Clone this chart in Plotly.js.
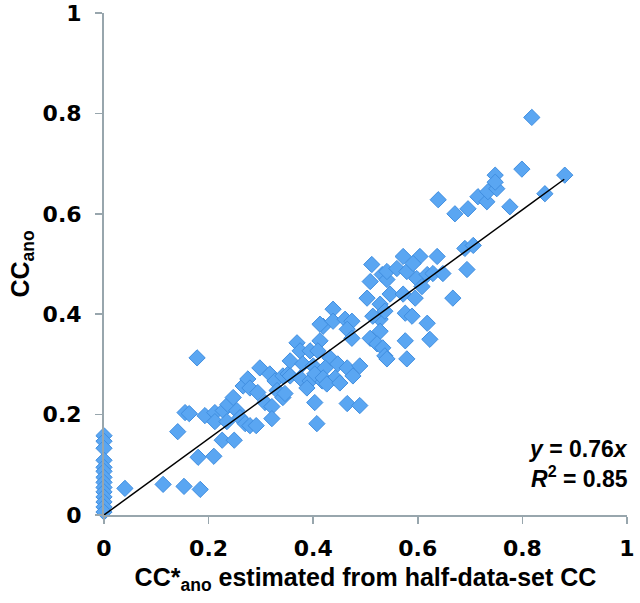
<!DOCTYPE html>
<html>
<head>
<meta charset="utf-8">
<script src="https://cdn.plot.ly/plotly-3.0.1.min.js"></script>
<style>html,body{margin:0;padding:0;background:#fff;}#chart{width:640px;height:603px;}</style>
</head>
<body>
<div id="chart"></div>
<script>
// CC*ano (estimated from half-data-set CC) values
const ccStar = [
  0,0,0,0,0,0,0,0,0,0,0,0,0,0,
  0.040,0.113,0.153,0.184,0.180,0.210,0.141,0.178,0.155,0.163,
  0.193,0.212,0.212,0.228,0.237,0.235,0.247,0.254,0.260,0.270,0.279,0.291,0.226,0.249,
  0.266,0.275,0.279,0.294,0.298,0.317,0.327,0.331,0.342,0.308,0.321,0.321,
  0.342,0.346,0.352,0.356,0.369,0.375,0.356,0.375,0.394,0.380,0.394,0.417,0.388,0.419,
  0.403,0.407,0.400,0.403,
  0.413,0.409,0.432,0.423,0.447,0.465,0.489,0.419,0.442,0.426,0.451,0.476,0.465,0.489,
  0.438,0.413,0.438,0.461,0.474,0.465,0.474,0.509,0.528,0.528,0.522,0.533,0.537,0.541,
  0.503,0.547,0.572,0.595,0.528,0.537,0.514,0.576,0.589,0.618,0.623,0.576,0.579,0.667,
  0.512,0.509,0.532,0.541,0.541,0.560,0.579,0.598,0.618,0.629,0.648,0.694,
  0.572,0.604,0.637,0.591,0.690,0.706,0.608,
  0.639,0.671,0.696,0.715,0.732,0.734,0.751,0.748,0.748,0.776,0.799,0.818,0.843,0.881
];
// CCano values
const ccAno = [
  0.158,0.147,0.133,0.109,0.095,0.087,0.075,0.065,0.055,0.046,0.036,0.026,0.016,0.006,
  0.053,0.061,0.057,0.051,0.115,0.117,0.166,0.313,0.204,0.202,
  0.198,0.204,0.186,0.208,0.220,0.186,0.234,0.208,0.194,0.182,0.178,0.178,0.149,0.149,
  0.257,0.271,0.253,0.244,0.293,0.281,0.267,0.248,0.234,0.224,0.216,0.192,
  0.277,0.242,0.281,0.307,0.343,0.327,0.277,0.273,0.327,0.301,0.267,0.267,0.253,0.376,
  0.224,0.182,0.297,0.281,
  0.347,0.327,0.313,0.293,0.301,0.293,0.297,0.273,0.273,0.261,0.263,0.277,0.222,0.218,
  0.410,0.380,0.386,0.390,0.386,0.370,0.352,0.352,0.390,0.366,0.341,0.333,0.317,0.311,
  0.432,0.440,0.440,0.432,0.420,0.406,0.396,0.402,0.396,0.382,0.350,0.347,0.311,0.432,
  0.499,0.465,0.479,0.469,0.485,0.491,0.485,0.471,0.479,0.481,0.481,0.489,
  0.515,0.515,0.515,0.501,0.531,0.537,0.455,
  0.628,0.600,0.610,0.634,0.624,0.644,0.650,0.677,0.663,0.614,0.689,0.792,0.640,0.677
];
// Linear fit through origin
const fitSlope = 0.76;
const fitR2 = 0.85;
const fitXRange = [0, 0.88];
const tickVals = [0, 0.2, 0.4, 0.6, 0.8, 1];
const tickText = ['0', '0.2', '0.4', '0.6', '0.8', '1'];

const fitY = fitXRange.map(v => fitSlope * v);

const tickFont = {family: 'DejaVu Sans, Verdana, sans-serif', size: 22, color: '#000', weight: 'bold'};
const titleFont = {family: 'Liberation Sans, Arial, sans-serif', size: 25, color: '#000', weight: 'bold'};
const annFont = {family: 'Liberation Sans, Arial, sans-serif', size: 23, color: '#000'};

const traces = [
  {
    x: ccStar, y: ccAno, type: 'scatter', mode: 'markers', cliponaxis: false,
    marker: {symbol: 'diamond', size: 12.5, color: 'rgb(90,166,242)',
             line: {color: 'rgb(64,142,224)', width: 1}},
    hoverinfo: 'x+y'
  },
  {
    x: fitXRange, y: fitY, type: 'scatter', mode: 'lines', cliponaxis: false,
    line: {color: '#000', width: 1.5}
  }
];

const layout = {
  width: 640, height: 603,
  margin: {l: 104, r: 13, t: 13, b: 88},
  paper_bgcolor: '#fff', plot_bgcolor: '#fff',
  showlegend: false,
  xaxis: {
    range: [0, 1], tickvals: tickVals, ticktext: tickText,
    showgrid: false, zeroline: false, showline: true,
    linecolor: '#98a6ad', linewidth: 2,
    ticks: 'outside', ticklen: 7, tickwidth: 1.5, tickcolor: '#98a6ad',
    tickfont: tickFont, ticklabelstandoff: 6, ticklabeloverflow: 'allow',
    title: {text: 'CC*<sub>ano</sub> estimated from half-data-set CC', font: titleFont, standoff: 8}
  },
  yaxis: {
    range: [0, 1], tickvals: tickVals, ticktext: tickText,
    showgrid: false, zeroline: false, showline: true,
    linecolor: '#98a6ad', linewidth: 2,
    ticks: 'outside', ticklen: 7, tickwidth: 1.5, tickcolor: '#98a6ad',
    tickfont: tickFont, ticklabelstandoff: 9, ticklabeloverflow: 'allow',
    title: {text: 'CC<sub>ano</sub>', font: titleFont, standoff: 6}
  },
  annotations: [
    {xref: 'paper', yref: 'y', x: 1.005, y: 0.132, xanchor: 'right', yanchor: 'middle',
     showarrow: false, align: 'right',
     text: '<b><i>y</i> = ' + fitSlope.toFixed(2) + '<i>x</i></b>', font: annFont},
    {xref: 'paper', yref: 'y', x: 1.005, y: 0.075, xanchor: 'right', yanchor: 'middle',
     showarrow: false, align: 'right',
     text: '<b><i>R</i><sup>2</sup> = ' + fitR2.toFixed(2) + '</b>', font: annFont}
  ]
};

Plotly.newPlot('chart', traces, layout, {displayModeBar: false, staticPlot: true});
</script>
</body>
</html>
